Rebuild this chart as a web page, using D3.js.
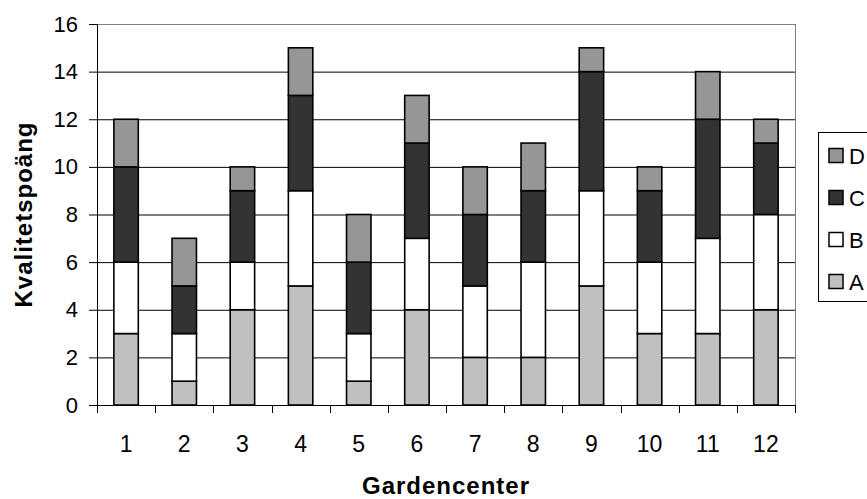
<!DOCTYPE html>
<html>
<head>
<meta charset="utf-8">
<script src="https://cdn.jsdelivr.net/npm/d3@7"></script>
<style>
  body { margin: 0; background: #fff; }
  text { font-family: "Liberation Sans", Arial, sans-serif; }
</style>
</head>
<body>
<svg width="867" height="499"></svg>
<script>
// data
var centers = ["1", "2", "3", "4", "5", "6", "7", "8", "9", "10", "11", "12"];
var seriesNames = ["A", "B", "C", "D"];
var valuesA = [3, 1, 4, 5, 1, 4, 2, 2, 5, 3, 3, 4];
var valuesB = [3, 2, 2, 4, 2, 3, 3, 4, 4, 3, 4, 4];
var valuesC = [4, 2, 3, 4, 3, 4, 3, 3, 5, 3, 5, 3];
var valuesD = [2, 2, 1, 2, 2, 2, 2, 2, 1, 1, 2, 1];
var yTicks = [0, 2, 4, 6, 8, 10, 12, 14, 16];

var colors = { A: "#c0c0c0", B: "#ffffff", C: "#333333", D: "#969696" };

var svg = d3.select("svg");
var margin = { top: 24, left: 97, right: 72, bottom: 94 };
var width = 795 - margin.left,
    height = 405 - margin.top;

var rows = centers.map(function(c, i) {
    return { center: c, A: valuesA[i], B: valuesB[i], C: valuesC[i], D: valuesD[i] };
});
var stacked = d3.stack().keys(seriesNames)(rows);

var x = d3.scaleBand().domain(centers).range([0, width]).paddingInner(0.58).paddingOuter(0.29);
var y = d3.scaleLinear().domain([0, 16]).range([height, 0]);

var g = svg.append("g")
    .attr("transform", "translate(" + margin.left + "," + margin.top + ")");

// grid lines
g.append("g").selectAll("line")
    .data(yTicks.filter(function(d) { return d > 0; }))
    .join("line")
    .attr("x1", 0).attr("x2", width)
    .attr("y1", function(d) { return y(d) + 0.5; })
    .attr("y2", function(d) { return y(d) + 0.5; })
    .style("stroke", "#000")
    .style("stroke-width", 1);

// plot border
g.append("rect")
    .attr("x", 0.5).attr("y", 0.5)
    .attr("width", width).attr("height", height)
    .style("fill", "none")
    .style("stroke", "#808080");

// bars
g.selectAll("g.series")
    .data(stacked)
    .join("g")
    .attr("class", "series")
    .style("fill", function(d) { return colors[d.key]; })
    .selectAll("rect")
    .data(function(d) { return d; })
    .join("rect")
    .attr("x", function(d) { return x(d.data.center); })
    .attr("y", function(d) { return y(d[1]); })
    .attr("width", x.bandwidth())
    .attr("height", function(d) { return y(d[0]) - y(d[1]); })
    .style("stroke", "#000")
    .style("stroke-width", 1.6);

// y axis
var yAxis = g.append("g")
    .call(d3.axisLeft(y).tickValues(yTicks).tickSize(8).tickPadding(11).tickFormat(d3.format("d")));
yAxis.select(".domain").style("stroke", "#000");
yAxis.selectAll("line").style("stroke", "#000");
yAxis.selectAll("text").style("font-size", "22px").style("fill", "#000");

// x axis with ticks between categories
var xAxis = g.append("g")
    .attr("transform", "translate(0," + height + ")");
xAxis.append("line")
    .attr("x1", 0).attr("x2", width)
    .attr("y1", 0.5).attr("y2", 0.5)
    .style("stroke", "#000");
xAxis.selectAll("line.tick")
    .data(d3.range(centers.length + 1))
    .join("line")
    .attr("class", "tick")
    .attr("x1", function(i) { return Math.round(i * x.step()) + 0.5; })
    .attr("x2", function(i) { return Math.round(i * x.step()) + 0.5; })
    .attr("y1", 0).attr("y2", 8)
    .style("stroke", "#000");
xAxis.selectAll("text")
    .data(centers)
    .join("text")
    .attr("x", function(d) { return x(d) + x.bandwidth() / 2; })
    .attr("y", 47)
    .attr("text-anchor", "middle")
    .style("font-size", "23px")
    .text(function(d) { return d; });

// axis titles
svg.append("text")
    .attr("x", margin.left + width / 2)
    .attr("y", 494)
    .attr("text-anchor", "middle")
    .style("font-size", "24px")
    .style("font-weight", "bold")
    .style("letter-spacing", "1px")
    .text("Gardencenter");

svg.append("text")
    .attr("transform", "translate(32," + (margin.top + height / 2) + ") rotate(-90)")
    .attr("text-anchor", "middle")
    .style("font-size", "24px")
    .style("font-weight", "bold")
    .style("letter-spacing", "1px")
    .text("Kvalitetspoäng");

// legend
var legend = svg.append("g").attr("transform", "translate(818,132)");
legend.append("rect")
    .attr("x", 0.5).attr("y", 0.5)
    .attr("width", 60).attr("height", 169)
    .style("fill", "#fff")
    .style("stroke", "#000");
var items = legend.selectAll("g.item")
    .data(seriesNames.slice().reverse())
    .join("g")
    .attr("class", "item")
    .attr("transform", function(d, i) { return "translate(11," + (23.5 + i * 42) + ")"; });
items.append("rect")
    .attr("x", 0).attr("y", -7)
    .attr("width", 14).attr("height", 14)
    .style("fill", function(d) { return colors[d]; })
    .style("stroke", "#000")
    .style("stroke-width", 1.5);
items.append("text")
    .attr("x", 20).attr("y", 8)
    .style("font-size", "22px")
    .text(function(d) { return d; });
</script>
</body>
</html>
